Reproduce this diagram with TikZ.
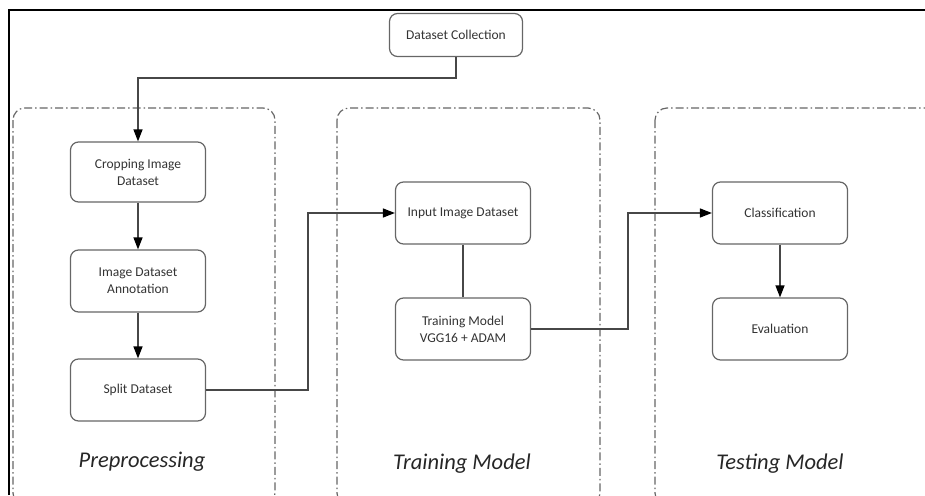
\documentclass[tikz,border=0pt]{standalone}
\usepackage{fontspec}
\setmainfont{Carlito}
\usetikzlibrary{arrows.meta,positioning}
\definecolor{boxgray}{gray}{0.40}
\definecolor{linegray}{gray}{0.28}
\tikzstyle{block} = [draw=boxgray, line width=1.2pt, rectangle, rounded corners=8pt,
    minimum width=135pt, align=center, text=black!80, font=\fontsize{13.5}{17}\selectfont]
\tikzstyle{edge} = [draw=linegray, line width=1.3pt]
\tikzstyle{arrow} = [edge, -{Triangle[length=12pt,width=9pt,fill=black,color=black]}]
\tikzstyle{group} = [draw=boxgray, line width=1.2pt, dash pattern=on 8pt off 3pt on 1.5pt off 3pt, rounded corners=12pt]
\tikzstyle{grouplabel} = [font=\fontsize{22.5}{26}\selectfont\itshape, text=black!85]

\begin{document}
\begin{tikzpicture}[x=1pt, y=-1pt, node distance=109pt]
    \useasboundingbox (0,0) rectangle (925,495);
    % frame
    \draw[line width=2pt] (9,495) -- (9,10) -- (925,10);
    % groups
    \begin{scope}
        \clip (0,0) rectangle (925,495);
        \draw[group] (13,108) rectangle (275,505);
        \draw[group] (337,108) rectangle (600,505);
        \draw[group] (655,108) rectangle (945,505);
    \end{scope}
    \node[grouplabel] (prelbl) at (142,462) {Preprocessing};
    \node[grouplabel] (trainlbl) at (462,464) {Training Model};
    \node[grouplabel] (testlbl) at (780,464) {Testing Model};

    \node[block, minimum width=133pt, minimum height=43pt] (coll) at (456,35) {Dataset Collection};
    \node[block, minimum height=60pt] (crop) at (138,172) {Cropping Image\\Dataset};
    \node[block, minimum height=62pt, below of=crop] (annot) {Image Dataset\\Annotation};
    \node[block, minimum height=62pt, below of=annot] (split) {Split Dataset};
    \node[block, minimum height=62pt] (input) at (463,213) {Input Image Dataset};
    \node[block, minimum height=62pt, below of=input, node distance=116pt] (train) {Training Model\\VGG16 + ADAM};
    \node[block, minimum height=62pt] (class) at (780,213) {Classification};
    \node[block, minimum height=62pt, below of=class, node distance=116pt] (eval) {Evaluation};

    \draw[arrow] (coll.south) -- ++(0,21) -| (crop.north);
    \draw[arrow] (crop) -- (annot);
    \draw[arrow] (annot) -- (split);
    \draw[arrow] (split.east) -- ++(102,0) |- (input.west);
    \draw[edge] (input) -- (train);
    \draw[arrow] (train.east) -- ++(97,0) |- (class.west);
    \draw[arrow] (class) -- (eval);
\end{tikzpicture}
\end{document}
